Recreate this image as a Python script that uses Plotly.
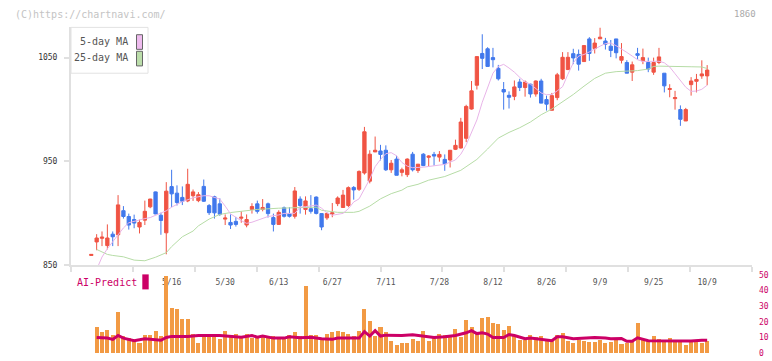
import pandas as pd
import plotly.graph_objects as go

W, H = 772, 361

# ---------------- data ----------------
holidays = ["2025-04-29", "2025-05-05", "2025-05-06", "2025-07-21",
            "2025-08-11", "2025-09-15", "2025-09-23"]
dates = pd.bdate_range("2025-04-22", "2025-10-09", freq="C", holidays=holidays)
labels = [f"{d.month}/{d.day}" for d in dates]
label_every = 10
label_start = 15

opens = [859.5, 872.5, 876, 869, 880, 879.4, 902.6, 897, 894.1, 886.9,
         893.5, 906.3, 920.7, 898.2, 881.3, 925.8, 919.5, 915.4, 912, 917,
         912.3, 926, 907.5, 916, 909.2, 894.5, 891.3, 892.3, 895.4, 888.8,
         903.8, 909.2, 903.8, 909.2, 896, 889.4, 905.4, 899.8, 897.2, 913.8,
         903.8, 904.5, 915.7, 899.8, 895.7, 899.5, 909.4, 905.7, 907.6, 925,
         923.2, 938.9, 931, 959.2, 960.1, 960.8, 942, 952.3, 939.5, 937.3,
         957, 941.4, 957, 954, 956.8, 954.2, 952, 951.4, 961.7, 963,
         972.3, 1000.5, 1023.4, 1054, 1058.5, 1050, 1039.7, 1019.3, 1013.7, 1012.7,
         1026.5, 1021.2, 1024.4, 1015, 1027.5, 1009.6, 999.3, 1011.5, 1029.6, 1038.5,
         1053.8, 1053.1, 1046.2, 1068, 1058.7, 1068.1, 1066, 1061, 1068, 1047.5,
         1045.3, 1036, 1053.8, 1046.9, 1045.3, 1036, 1045.3, 1035, 1019.3, 1010.5,
         1000, 989, 1024, 1027.2, 1032.4, 1032.4]
highs = [860.5, 880, 882.6, 889.4, 882.6, 917.6, 907, 899.8, 898.8, 894,
         912.3, 914, 921, 900.7, 930.1, 942, 927, 926, 943, 923,
         920.5, 932.6, 909, 917, 914.5, 899, 899, 896.6, 902, 899,
         909.8, 912.3, 913.8, 910.4, 899.8, 903, 906.6, 906, 925.4, 916.4,
         916.4, 917.6, 916.4, 900, 900.7, 910, 916.4, 922.6, 926, 926.3,
         941.4, 983.3, 960.8, 974, 966, 965.5, 951.4, 955.5, 944, 953,
         959.2, 947.4, 958, 956, 959.2, 960, 956.8, 961, 971, 992,
         1004.6, 1027.5, 1051, 1072.5, 1060, 1059.4, 1043, 1026.5, 1017.5, 1028,
         1029.6, 1028, 1025, 1028, 1029.6, 1013.4, 1016, 1035.3, 1055.3, 1055.3,
         1058.5, 1057.8, 1062, 1069.7, 1068.8, 1079, 1069, 1067, 1068, 1064,
         1047.5, 1046.2, 1059.4, 1058.7, 1050, 1050, 1059.4, 1035, 1024.4, 1018,
         1004, 1001.6, 1031.2, 1034.3, 1047.4, 1042.8]
lows = [859.5, 864.5, 868.5, 865.3, 868.5, 868.5, 895, 884.4, 885.7, 880.7,
        888.8, 905, 899.2, 879.4, 860.6, 906, 907.6, 908, 910.8, 912,
        910.8, 911, 898.5, 895, 897.6, 888.8, 885, 887.3, 891, 886.6,
        899.8, 899.8, 902, 896, 882.6, 889, 896, 896, 895, 899.8,
        898.8, 899.8, 899, 883.8, 893.8, 896.3, 907, 905.7, 906, 913.2,
        921.6, 937.3, 928.9, 959, 951, 940.8, 939, 936.7, 935.7, 935,
        940.4, 939, 945.5, 945, 946, 949.8, 941, 944.2, 961, 962.4,
        968.6, 999.9, 1019.3, 1039, 1041.5, 1040.6, 1028, 999.9, 1001, 1009,
        1017.8, 1012.4, 1011.5, 1012.4, 1006, 999, 999.3, 1009, 1028.4, 1038,
        1043.7, 1037.5, 1046, 1046.9, 1054, 1068, 1057.8, 1050.5, 1049.3, 1044.4,
        1035, 1027.5, 1048.4, 1043.7, 1036, 1033.4, 1043.7, 1016.5, 1011.8, 999.9,
        984.3, 989, 1013.4, 1016.5, 1029.6, 1023.4]
closes = [860.5, 876.3, 877.2, 876.3, 877.5, 908.2, 897, 888.8, 890.7, 891.3,
          902, 913.8, 899.5, 893.2, 921.4, 918.8, 910.5, 911.7, 928, 920.7,
          918, 911.7, 900.7, 900.5, 899.1, 895.5, 888.8, 889.4, 896.3, 894.1,
          906.6, 902, 905.7, 899.8, 889.4, 901, 897.2, 897.2, 921.6, 907.6,
          912, 902, 900, 886.9, 900, 900.5, 914.8, 917.6, 924.8, 922.6,
          940.4, 978.6, 957, 960.8, 956.8, 942, 948.3, 936.7, 942, 952.3,
          942, 947.4, 946, 955.2, 955.2, 956.8, 947.7, 960.8, 965.5, 988,
          1003, 1018, 1051, 1049.3, 1041.5, 1048, 1029.6, 1016.9, 1011.8, 1021.8,
          1021.2, 1026.5, 1015, 1027.5, 1006.2, 1005.2, 1013.4, 1033.4, 1050.3, 1050.3,
          1049.7, 1043.7, 1061.6, 1054, 1064, 1069.7, 1062.9, 1056.9, 1054.7, 1051,
          1035, 1043.1, 1052.2, 1050, 1039, 1045.3, 1050.7, 1022.8, 1020.2, 1011.5,
          990.6, 1000, 1027.5, 1029, 1034.3, 1038]

# moving averages (day index -> value)
ma5_days = [1, 2, 3, 4, 5, 6, 7, 9, 10, 11, 12, 14, 15, 16, 17, 19, 21, 22, 24, 25,
            26, 28, 29, 30, 32, 33, 35, 36, 38, 39, 40, 42, 43, 44, 45, 47, 48, 49, 50, 51,
            52, 53, 54, 55, 56, 57, 58, 59, 60, 62, 64, 66, 68, 69, 70, 71, 72, 73, 74, 75,
            76, 77, 78, 79, 80, 81, 82, 83, 84, 85, 86, 87, 88, 89, 90, 91, 92, 93, 94, 95,
            96, 97, 98, 99, 100, 101, 102, 103, 104, 105, 106, 107, 108, 109, 110, 111, 112, 113, 114, 115]
ma5_vals = [846, 858, 866, 873, 879, 886, 891, 894, 895, 896, 898.2, 902.5, 906, 909, 911.3, 915, 917, 917, 913.8, 907,
            899.5, 893, 890.4, 891.5, 895.5, 897, 898.5, 900, 900, 906, 906.5, 908, 905, 900.5, 898.2, 900, 904.5, 911, 914, 923,
            933, 945, 952, 957.5, 958.5, 955.5, 949, 945.5, 944, 944.5, 945.5, 947.2, 951.5, 957, 966, 978.5, 990, 1007, 1021, 1035,
            1041.5, 1043.5, 1040, 1036, 1031, 1026.5, 1024.5, 1020.5, 1016, 1014.3, 1014.5, 1018, 1022, 1034, 1045, 1051.5, 1053, 1055.5, 1058.5, 1061,
            1063.5, 1064, 1061.5, 1058.5, 1055, 1051.5, 1048, 1046.3, 1046.5, 1047, 1046.5, 1045, 1041, 1034.5, 1028.5, 1021.5, 1017.5, 1017.8, 1019.5, 1023.5]

ma25_days = [1, 3, 4, 6, 8, 9, 10, 12, 14, 15, 17, 19, 20, 22, 24, 26, 28, 31, 35, 39,
             42, 43, 46, 49, 50, 52, 54, 56, 58, 59, 61, 63, 66, 69, 72, 74, 76, 78, 80, 82,
             84, 86, 88, 90, 92, 94, 96, 98, 100, 102, 104, 105, 106, 108, 110, 112, 114, 115]
ma25_vals = [865.3, 860.5, 859.5, 858.2, 855, 854.4, 854.4, 857.8, 862.2, 868, 877.5, 883, 888, 894.5, 899, 900.8, 902, 903.8, 905, 905.4,
             906, 903, 901, 901, 902, 907, 914, 919, 922.4, 925.5, 928, 932, 935.5, 941.5, 952, 962, 972.5, 978, 982.5, 988,
             995, 1000.5, 1007.3, 1014.5, 1022.5, 1030, 1035, 1036.5, 1037, 1037.5, 1039, 1041.5, 1041.8, 1041.8, 1041.5, 1041.2, 1041, 1039.5]

volume = [None, 16.5, 13.8, 15, 11.9, 26.3, 10.7, 9.6, 7.5, 6.3,
          11.3, 11.9, 14.4, 10.7, 49.5, 28.8, 28.4, 22.1, 22.1, 12.5,
          6.3, 11.9, 11.9, 11.9, 9, 14.4, 11.7, 12.5, 9.6, 12.5,
          9.6, 10.7, 11.9, 10.7, 10.7, 9.6, 9.6, 11.9, 13.8, 10.7,
          43.3, 11.3, 11.3, 9.6, 12.5, 13.4, 14.4, 13.4, 12.5, 10.7,
          14.4, 28.4, 20.7, 10.7, 16.5, 13.4, 7.5, 5, 6.5, 6.5,
          9, 7.7, 14.4, 7.7, 10.4, 12.5, 11.9, 11.9, 15.7, 10.4,
          21.5, 16.5, 13.8, 22.8, 23.4, 19.4, 18.4, 15, 17.1, 11.3,
          8.2, 8.5, 11.9, 10.4, 10.7, 8.2, 7.5, 11.9, 12.7, 7.5,
          6.5, 8.5, 8, 7.3, 7.1, 8.5, 6.7, 7.1, 8.5, 6,
          6.7, 7.1, 19.4, 8.5, 8.5, 10.7, 8.8, 7.1, 9.4, 7.1,
          7.1, 5, 7.5, 7.5, 6.5, 7.5]

ai_days = [1, 3, 4, 5, 6, 8, 10, 12, 13, 14, 15, 18, 20, 24, 26, 28, 30, 31, 32, 34,
           36, 37, 39, 41, 43, 45, 46, 48, 50, 51, 52, 53, 54, 55, 58, 60, 61, 63, 64, 66,
           68, 70, 71, 72, 73, 74, 75, 77, 78, 79, 81, 82, 84, 86, 87, 88, 90, 92, 94, 96,
           97, 99, 100, 101, 102, 104, 106, 107, 110, 112, 114, 115]
ai_vals = [10, 9.6, 8.8, 11.3, 9.6, 7.9, 9.2, 8.8, 8.2, 10, 10.7, 10.7, 11.3, 11.3, 10.7, 10.2, 11.3, 10.2, 10.9, 9.6,
           9.6, 10.4, 9.8, 10.2, 9.2, 8.8, 9.6, 9.6, 9.6, 13.8, 10.9, 14.4, 10.9, 11.5, 11.3, 11.7, 11.3, 10.7, 10, 10.4,
           11.3, 13, 14.4, 12.5, 13, 12.2, 10, 10, 11.9, 11.3, 9.2, 9.6, 8.8, 7.9, 10.4, 10.4, 9.2, 9.6, 10, 9.6,
           9.2, 9.4, 7.5, 7.5, 9.8, 7.9, 7.9, 7.5, 7.5, 7.7, 8.2, 8.2]

y_ticks = [850, 950, 1050]
vol_ticks = [0, 10, 20, 30, 40, 50]

# ---------------- styling ----------------
RED = "#f05444"
BLUE = "#4078ec"
PINK = "#e8b4e8"
GREEN = "#b6dca6"
ORANGE = "#f29a44"
CRIMSON = "#cc0066"
MONO = "DejaVu Sans Mono"

idx = list(range(len(dates)))
x_left = -3.79
x_right = 123.37

def px(x):
    return x / W

def py(y):
    return 1 - y / H

fig = go.Figure()

fig.add_trace(go.Scatter(x=ma25_days, y=ma25_vals, mode="lines",
                         line=dict(color=GREEN, width=1), hoverinfo="skip",
                         xaxis="x", yaxis="y", showlegend=False))
fig.add_trace(go.Scatter(x=ma5_days, y=ma5_vals, mode="lines",
                         line=dict(color=PINK, width=1), hoverinfo="skip",
                         xaxis="x", yaxis="y", showlegend=False))
fig.add_trace(go.Candlestick(
    x=idx, open=opens, high=highs, low=lows, close=closes,
    increasing=dict(line=dict(color=RED, width=1), fillcolor=RED),
    decreasing=dict(line=dict(color=BLUE, width=1), fillcolor=BLUE),
    whiskerwidth=0, xaxis="x", yaxis="y", showlegend=False))

fig.add_trace(go.Bar(x=idx, y=volume, marker=dict(color=ORANGE, line=dict(width=0)),
                     width=0.75, xaxis="x2", yaxis="y2", showlegend=False))
fig.add_trace(go.Scatter(x=ai_days, y=ai_vals, mode="lines",
                         line=dict(color=CRIMSON, width=3), xaxis="x2", yaxis="y2",
                         showlegend=False))
# invisible carrier for the date label axis
fig.add_trace(go.Scatter(x=[idx[0]], y=[None], xaxis="x3", yaxis="y",
                         showlegend=False, hoverinfo="skip"))

dom_x = [px(71), px(752)]
tick_idx = list(range(label_start, len(dates), label_every))

fig.update_layout(
    width=W, height=H, autosize=False,
    margin=dict(l=0, r=0, t=0, b=0),
    paper_bgcolor="white", plot_bgcolor="white",
    showlegend=False, boxgap=0.12, bargap=0,
    xaxis=dict(domain=dom_x, range=[x_left, x_right], anchor="y",
               showline=True, linecolor="#e0e0e0", linewidth=2,
               ticks="outside", ticklen=5, tickwidth=2, tickcolor="#e0e0e0",
               tickmode="linear", tick0=x_left, dtick=(x_right - x_left) / 11,
               showticklabels=False, showgrid=False, zeroline=False,
               rangeslider=dict(visible=False)),
    xaxis3=dict(overlaying="x", matches="x", anchor="y", side="bottom",
                tickmode="array", tickvals=tick_idx,
                ticktext=[labels[i] for i in tick_idx],
                ticks="", showline=False, showgrid=False, zeroline=False,
                tickfont=dict(family=MONO, size=8, color="#555555"),
                ticklabelstandoff=11),
    yaxis=dict(domain=[py(268), py(24)], range=[850, 1079.1], anchor="x",
               showline=True, linecolor="#e0e0e0", linewidth=2,
               ticks="outside", ticklen=5, tickwidth=2, tickcolor="#e0e0e0",
               tickmode="array", tickvals=y_ticks,
               tickfont=dict(family=MONO, size=8, color="#333333"),
               ticklabelstandoff=5,
               showgrid=False, zeroline=False),
    xaxis2=dict(domain=dom_x, range=[x_left, x_right], anchor="y2", matches="x",
                visible=False),
    yaxis2=dict(domain=[py(358), py(278)], range=[0, 50], anchor="x2", side="right",
                tickmode="array", tickvals=vol_ticks, ticks="",
                showline=False, showgrid=False, zeroline=False,
                ticklabelstandoff=6,
                tickfont=dict(family=MONO, size=8, color=CRIMSON)),
)

shapes = [
    # legend box
    dict(type="rect", xref="paper", yref="paper", x0=px(71), x1=px(148),
         y0=py(71), y1=py(24), line=dict(color="#e2e2e2", width=1),
         fillcolor="white", layer="above"),
    dict(type="rect", xref="paper", yref="paper", x0=px(136.5), x1=px(142.5),
         y0=py(46.5), y1=py(31.5), line=dict(color="#666666", width=1),
         fillcolor="#eebbee", layer="above"),
    dict(type="rect", xref="paper", yref="paper", x0=px(136.5), x1=px(142.5),
         y0=py(63.5), y1=py(48.5), line=dict(color="#666666", width=1),
         fillcolor="#bbddaa", layer="above"),
    # AI-Predict swatch
    dict(type="rect", xref="paper", yref="paper", x0=px(142.3), x1=px(148.7),
         y0=py(292.7), y1=py(277.3), line=dict(width=0),
         fillcolor=CRIMSON, layer="above"),
]
fig.update_layout(shapes=shapes)

ann = [
    dict(text="5-day MA", x=px(130), y=py(38), xanchor="right", yanchor="middle",
         font=dict(family=MONO, size=10, color="#555555")),
    dict(text="25-day MA", x=px(130), y=py(55), xanchor="right", yanchor="middle",
         font=dict(family=MONO, size=10, color="#555555")),
    dict(text="AI-Predict", x=px(75), y=py(286), xanchor="left", yanchor="middle",
         font=dict(family=MONO, size=10, color=CRIMSON)),
    dict(text="(C)https://chartnavi.com/", x=px(13), y=py(10.5), xanchor="left",
         yanchor="middle", font=dict(family=MONO, size=10, color="#c4c4c4")),
    dict(text="1860", x=px(758), y=py(10.5), xanchor="right", yanchor="middle",
         font=dict(family=MONO, size=9, color="#aaaaaa")),
]
for a in ann:
    a.update(xref="paper", yref="paper", showarrow=False)
fig.update_layout(annotations=ann)

fig.write_html("out.html",
               config={"displayModeBar": False, "staticPlot": True},
               post_script="document.body.style.margin='0px';"
                           "document.body.style.overflow='hidden';")
